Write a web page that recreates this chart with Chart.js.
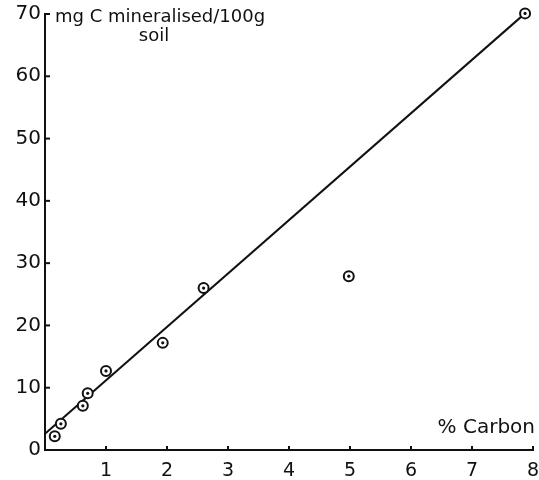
<!DOCTYPE html>
<html>
<head>
<meta charset="utf-8">
<script src="https://cdn.jsdelivr.net/npm/chart.js@4"></script>
<style>
  html, body { margin: 0; padding: 0; background: #fff; overflow: hidden; }
  #wrap { width: 539px; height: 480px; }
</style>
</head>
<body>
<div id="wrap"><canvas id="chart"></canvas></div>
<script>
// measured points (% carbon vs mg C mineralised / 100 g soil)
const carbon = [0.16, 0.26, 0.62, 0.7, 1.0, 1.93, 2.6, 4.98, 7.87];
const mineralised = [2.2, 4.2, 7.1, 9.1, 12.7, 17.2, 26.0, 27.9, 70.1];

// fitted line ends
const fitX = [0, 7.87];
const fitY = [2.6, 70.1];

const xTicks = [0, 1, 2, 3, 4, 5, 6, 7, 8];
const yTicks = [0, 10, 20, 30, 40, 50, 60, 70];

const yTitle = ["mg C mineralised/100g", "soil"];
const xTitle = "% Carbon";

const FONT = "'DejaVu Sans', sans-serif";

const pts = carbon.map((c, i) => ({ x: c, y: mineralised[i] }));
const fit = fitX.map((c, i) => ({ x: c, y: fitY[i] }));

// inward tick marks + axis titles
const extras = {
  id: "extras",
  afterDraw(chart) {
    const c = chart.ctx;
    const xs = chart.scales.x, ys = chart.scales.y;
    c.save();
    c.strokeStyle = "#111";
    c.lineWidth = 2;
    xTicks.slice(1).forEach(v => {
      const px = xs.getPixelForValue(v);
      c.beginPath();
      c.moveTo(px, ys.bottom);
      c.lineTo(px, ys.bottom - 4);
      c.stroke();
    });
    yTicks.slice(1).forEach(v => {
      const py = ys.getPixelForValue(v);
      c.beginPath();
      c.moveTo(xs.left, py);
      c.lineTo(xs.left + 5, py);
      c.stroke();
    });
    c.fillStyle = "#111";
    c.font = "18px " + FONT;
    c.textBaseline = "middle";
    c.textAlign = "left";
    c.fillText(yTitle[0], xs.left + 10, ys.getPixelForValue(70) + 3);
    c.textAlign = "center";
    c.fillText(yTitle[1], xs.left + 109, ys.getPixelForValue(70) + 22);
    c.font = "20px " + FONT;
    c.textAlign = "right";
    c.fillText(xTitle, xs.right + 2, ys.bottom - 22);
    c.restore();
  }
};

new Chart(document.getElementById("chart"), {
  type: "scatter",
  data: {
    datasets: [
      {
        type: "line",
        data: fit,
        borderColor: "#111",
        borderWidth: 2,
        pointRadius: 0,
        fill: false,
        clip: false,
        order: 3
      },
      {
        data: pts,
        pointRadius: 5,
        pointBorderWidth: 2,
        pointBorderColor: "#111",
        pointBackgroundColor: "#fff",
        clip: false,
        order: 2
      },
      {
        data: pts,
        pointRadius: 1.6,
        pointBorderWidth: 0,
        pointBackgroundColor: "#111",
        clip: false,
        order: 1
      }
    ]
  },
  options: {
    responsive: true,
    maintainAspectRatio: false,
    animation: false,
    layout: { autoPadding: false, padding: { top: 14, right: 6, left: 0, bottom: 0 } },
    plugins: { legend: { display: false }, tooltip: { enabled: false } },
    scales: {
      x: {
        type: "linear",
        min: 0, max: 8,
        afterBuildTicks: s => { s.ticks = xTicks.map(v => ({ value: v })); },
        afterFit: s => { s.height = 30; s.paddingLeft = 0; s.paddingRight = 0; },
        grid: { display: false, drawTicks: false },
        border: { display: true, color: "#111", width: 2 },
        ticks: {
          padding: 10,
          maxRotation: 0,
          color: "#111",
          font: { family: FONT, size: 19 },
          callback: v => (v === 0 ? "" : v)
        }
      },
      y: {
        min: 0, max: 70,
        afterBuildTicks: s => { s.ticks = yTicks.map(v => ({ value: v })); },
        afterFit: s => { s.width = 45; s.paddingTop = 0; s.paddingBottom = 0; },
        grid: { display: false, drawTicks: false },
        border: { display: true, color: "#111", width: 2 },
        ticks: {
          padding: 4,
          color: "#111",
          font: { family: FONT, size: 20 },
          callback: v => v
        }
      }
    }
  },
  plugins: [extras]
});
</script>
</body>
</html>
